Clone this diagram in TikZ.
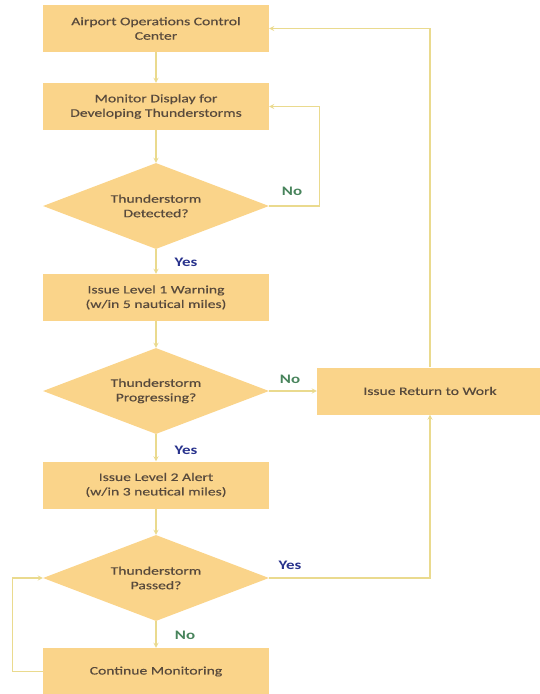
\documentclass[tikz,border=0pt]{standalone}
\usepackage{fontspec}
\setmainfont{Carlito}
\newfontfamily\boxfont[FakeStretch=1.36, FakeBold=0.4]{Carlito}
\newfontfamily\tagfont[FakeStretch=1.3]{Carlito}
\usetikzlibrary{shapes,arrows,positioning}
\definecolor{boxfill}{RGB}{250,212,138}
\definecolor{linecol}{RGB}{234,218,142}
\definecolor{txtcol}{RGB}{88,74,60}
\definecolor{yescol}{RGB}{40,50,140}
\definecolor{nocol}{RGB}{72,132,92}

\begin{document}
\begin{tikzpicture}[
    x=1pt, y=-1pt,
    process/.style={rectangle, fill=boxfill, minimum width=226pt, minimum height=47pt, align=center, text=txtcol, font=\boxfont\fontsize{11.5}{14.5}\selectfont},
    decision/.style={diamond, aspect=2.63, fill=boxfill, minimum width=226pt, minimum height=86pt, inner sep=0pt, align=center, text=txtcol, font=\boxfont\fontsize{11.5}{14.5}\selectfont},
    arrow/.style={->, >=stealth, draw=linecol, line width=1.2pt},
    yeslabel/.style={text=yescol, font=\tagfont\bfseries\fontsize{13}{15}\selectfont},
    nolabel/.style={text=nocol, font=\tagfont\bfseries\fontsize{13}{15}\selectfont}
]
    \useasboundingbox (0,0) rectangle (539,694);

    % Left column
    \node[process] (control) at (156,28.5) {Airport Operations Control\\Center};
    \node[process] (monitor) at (156,106.5) {Monitor Display for\\Developing Thunderstorms};
    \node[decision] (detected) at (156,206) {Thunderstorm\\Detected?};
    \node[process] (warning) at (156,297.5) {Issue Level 1 Warning\\(w/in 5 nautical miles)};
    \node[decision] (progressing) at (156,391) {Thunderstorm\\Progressing?};
    \node[process] (alert) at (156,485) {Issue Level 2 Alert\\(w/in 3 neutical miles)};
    \node[decision] (passed) at (156,578) {Thunderstorm\\Passed?};
    \node[process] (continue) at (156,671.5) {Continue Monitoring};

    % Right side
    \node[process] (return) at (430,391) {Issue Return to Work};

    % Arrows
    \draw[arrow] (control) -- (monitor);
    \draw[arrow] (monitor) -- (detected);
    \draw[arrow] (detected.east) -- ++(50,0) |- (monitor.east);
    \draw[arrow] (detected) -- (warning);
    \draw[arrow] (warning) -- (progressing);
    \draw[arrow] (progressing) -- (return);
    \draw[arrow] (progressing) -- (alert);
    \draw[arrow] (alert) -- (passed);
    \draw[arrow] (passed.east) -| (return.south);
    \draw[arrow] (return.north) |- (control.east);
    \draw[arrow] (passed) -- (continue);
    \draw[arrow] (continue.west) -- ++(-30,0) |- (passed.west);

    % Labels
    \node[nolabel] (no1) at (292,191) {No};
    \node[yeslabel] (yes1) at (186,262) {Yes};
    \node[nolabel] (no2) at (290,379) {No};
    \node[yeslabel] (yes2) at (186,450) {Yes};
    \node[yeslabel] (yes3) at (290,565) {Yes};
    \node[nolabel] (no3) at (185,635) {No};
\end{tikzpicture}
\end{document}
